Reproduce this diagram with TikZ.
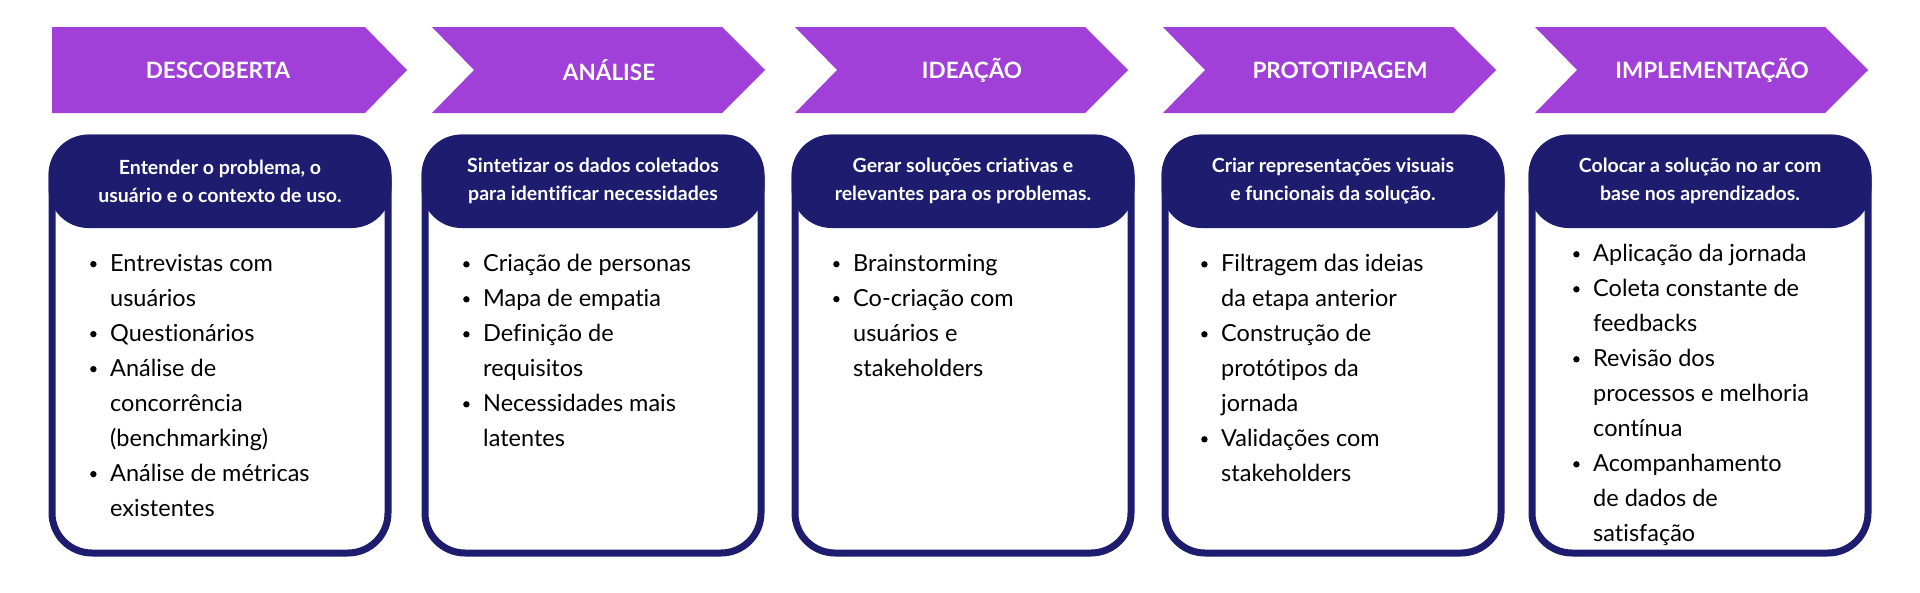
\documentclass[tikz,border=0pt]{standalone}
\usepackage{fontspec}
\setmainfont{Lato}[Ligatures=NoCommon]
\definecolor{purp}{HTML}{A040D8}
\definecolor{navy}{HTML}{1E1C6E}
\tikzset{
 arrowshape/.style={fill=purp,draw=none},
 cardbox/.style={draw=navy,line width=7pt,fill=white,rounded corners=40pt},
 headbox/.style={fill=navy,rounded corners=40pt},
 titletext/.style={text=white,font=\bfseries\fontsize{22.5}{26}\selectfont},
 headtext/.style={text=white,font=\bfseries\fontsize{19.5}{28}\selectfont,align=center},
 bodytext/.style={anchor=north west,align=left,font=\fontsize{23.5}{35}\selectfont,inner sep=0pt},
}
\newcommand{\bl}{\makebox[20pt][l]{\raisebox{4pt}{\tikz\fill (0,0) circle (3.2pt);}}}
\newcommand{\ind}{\hspace*{20pt}}
\begin{document}
\begin{tikzpicture}[x=1pt,y=-1pt]
\useasboundingbox (0,0) rectangle (1920,592);
% arrows
\fill[arrowshape] (52,27) -- (365,27) -- (407,70) -- (365,113) -- (52,113) -- cycle;
\node[titletext] (t1) at (218,70) {DESCOBERTA};
\foreach \x/\n/\t in {432/2/ANÁLISE,795/3/IDEAÇÃO,1163/4/PROTOTIPAGEM,1535/5/IMPLEMENTAÇÃO}{
 \fill[arrowshape] (\x,27) -- (\x+290,27) -- (\x+333,70) -- (\x+290,113) -- (\x,113) -- (\x+42,70) -- cycle;
 \node[titletext] (t\n) at (\x+177,70) {\t};
}
% cards
\foreach \x/\n in {52/1,425/2,795/3,1165/4,1532/5}{
 \draw[cardbox] (\x,138) rectangle (\x+336,553);
 \fill[headbox] (\x-3.5,134.5) rectangle (\x+339.5,228);
}
\node[headtext] (h1) at (220,181) {Entender o problema, o\\usuário e o contexto de uso.};
\node[headtext] (h2) at (593,181) {Sintetizar os dados coletados\\para identificar necessidades};
\node[headtext] (h3) at (963,181) {Gerar soluções criativas e\\relevantes para os problemas.};
\node[headtext] (h4) at (1333,181) {Criar representações visuais\\e funcionais da solução.};
\node[headtext] (h5) at (1700,181) {Colocar a solução no ar com\\base nos aprendizados.};
\node[bodytext] (b1) at (90,254) {\bl Entrevistas com\\\ind usuários\\\bl Questionários\\\bl Análise de\\\ind concorrência\\\ind (benchmarking)\\\bl Análise de métricas\\\ind existentes};
\node[bodytext] (b2) at (463,254) {\bl Criação de personas\\\bl Mapa de empatia\\\bl Definição de\\\ind requisitos\\\bl Necessidades mais\\\ind latentes};
\node[bodytext] (b3) at (833,254) {\bl Brainstorming\\\bl Co-criação com\\\ind usuários e\\\ind stakeholders};
\node[bodytext] (b4) at (1201,254) {\bl Filtragem das ideias\\\ind da etapa anterior\\\bl Construção de\\\ind protótipos da\\\ind jornada\\\bl Validações com\\\ind stakeholders};
\node[bodytext] (b5) at (1573,244) {\bl Aplicação da jornada\\\bl Coleta constante de\\\ind feedbacks\\\bl Revisão dos\\\ind processos e melhoria\\\ind contínua\\\bl Acompanhamento\\\ind de dados de\\\ind satisfação};
\end{tikzpicture}
\end{document}
